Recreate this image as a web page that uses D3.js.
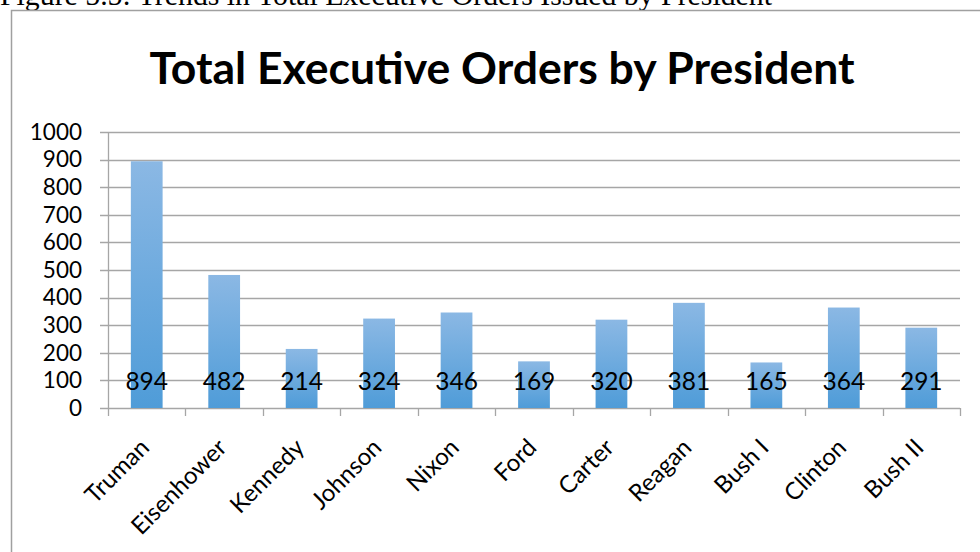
<!DOCTYPE html>
<html>
<head>
<meta charset="utf-8">
<script src="https://cdn.jsdelivr.net/npm/d3@7"></script>
<style>
  body { margin: 0; background: #fff; }
  svg { display: block; }
</style>
</head>
<body>
<script>
 //Chart data
 var presidents = ["Truman", "Eisenhower", "Kennedy", "Johnson", "Nixon", "Ford",
     "Carter", "Reagan", "Bush I", "Clinton", "Bush II"];
 var orders = [894, 482, 214, 324, 346, 169, 320, 381, 165, 364, 291];
 var yTicks = [0, 100, 200, 300, 400, 500, 600, 700, 800, 900, 1000];

 var captionText = "Figure 5.5: Trends in Total Executive Orders Issued by President";
 var titleText = "Total Executive Orders by President";

 //Width and height
 var width = 980,
     height = 552;
 var plot = { left: 108, right: 960, top: 132, bottom: 408 };
 var labelFont = "Lato, 'Open Sans', sans-serif";

 var svg = d3.select("body")
     .append("svg")
     .attr("width", width)
     .attr("height", height);

 var defs = svg.append("defs");
 var grad = defs.append("linearGradient")
     .attr("id", "barFill")
     .attr("x1", 0).attr("y1", 0)
     .attr("x2", 0).attr("y2", 1);
 grad.append("stop").attr("offset", "0%").attr("stop-color", "#8bb8e4");
 grad.append("stop").attr("offset", "100%").attr("stop-color", "#4f9cd8");

 //Caption above the frame (clipped by the page top)
 svg.append("text")
     .attr("x", 0)
     .attr("y", 5)
     .style("font-family", "'Liberation Serif', 'Times New Roman', serif")
     .style("font-size", "29.8px")
     .attr("fill", "#000")
     .text(captionText);

 //Chart frame
 svg.append("path")
     .attr("d", "M11.5," + height + "V10.5H" + width)
     .attr("fill", "none")
     .attr("stroke", "#a0a0a0")
     .attr("stroke-width", 1.5);

 //Title
 svg.append("text")
     .attr("x", 502)
     .attr("y", 84)
     .attr("text-anchor", "middle")
     .style("font-family", labelFont)
     .style("font-weight", "bold")
     .style("font-size", "44.5px")
     .attr("fill", "#000")
     .text(titleText);

 //Scales
 var x = d3.scaleBand()
     .domain(presidents)
     .range([plot.left, plot.right])
     .paddingInner(0.59)
     .paddingOuter(0.295);

 var y = d3.scaleLinear()
     .domain([0, 1000])
     .range([plot.bottom, plot.top]);

 //Gridlines
 svg.append("g")
     .selectAll("line")
     .data(yTicks)
     .enter()
     .append("line")
     .attr("x1", plot.left - 8)
     .attr("x2", plot.right)
     .attr("y1", function(d) { return Math.round(y(d)) + 0.5; })
     .attr("y2", function(d) { return Math.round(y(d)) + 0.5; })
     .attr("stroke", "#a6a6a6")
     .attr("stroke-width", 1.3);

 //Y axis line
 svg.append("line")
     .attr("x1", plot.left + 0.5).attr("x2", plot.left + 0.5)
     .attr("y1", plot.top).attr("y2", plot.bottom)
     .attr("stroke", "#a6a6a6")
     .attr("stroke-width", 1.3);

 //Y tick labels
 svg.append("g")
     .selectAll("text")
     .data(yTicks)
     .enter()
     .append("text")
     .attr("x", 82)
     .attr("y", function(d) { return y(d); })
     .attr("dy", "0.35em")
     .attr("text-anchor", "end")
     .style("font-family", labelFont)
     .style("font-size", "22.5px")
     .attr("fill", "#000")
     .text(function(d) { return d; });

 //Category tick marks
 var catEdges = d3.range(presidents.length + 1).map(function(i) {
     return plot.left + i * (plot.right - plot.left) / presidents.length;
 });
 svg.append("g")
     .selectAll("line")
     .data(catEdges)
     .enter()
     .append("line")
     .attr("x1", function(d) { return Math.round(d) + 0.5; })
     .attr("x2", function(d) { return Math.round(d) + 0.5; })
     .attr("y1", plot.bottom)
     .attr("y2", plot.bottom + 8)
     .attr("stroke", "#a6a6a6")
     .attr("stroke-width", 1.3);

 //Bars
 svg.append("g")
     .selectAll("rect")
     .data(orders)
     .enter()
     .append("rect")
     .attr("x", function(d, i) { return x(presidents[i]); })
     .attr("y", function(d) { return y(d); })
     .attr("width", x.bandwidth())
     .attr("height", function(d) { return y(0) - y(d); })
     .attr("fill", "url(#barFill)");

 //Value labels inside the base of the bars
 svg.append("g")
     .selectAll("text")
     .data(orders)
     .enter()
     .append("text")
     .attr("x", function(d, i) { return x(presidents[i]) + x.bandwidth() / 2; })
     .attr("y", y(100) + 1)
     .attr("dy", "0.35em")
     .attr("text-anchor", "middle")
     .style("font-family", labelFont)
     .style("font-size", "24.5px")
     .attr("fill", "#000")
     .text(function(d) { return d; });

 //Rotated category labels
 svg.append("g")
     .selectAll("text")
     .data(presidents)
     .enter()
     .append("text")
     .attr("transform", function(d) {
         var cx = x(d) + x.bandwidth() / 2 + 4;
         return "translate(" + cx + "," + (plot.bottom + 41) + ") rotate(-45)";
     })
     .attr("text-anchor", "end")
     .style("font-family", labelFont)
     .style("font-size", "24px")
     .attr("fill", "#000")
     .text(function(d) { return d; });
</script>
</body>
</html>
